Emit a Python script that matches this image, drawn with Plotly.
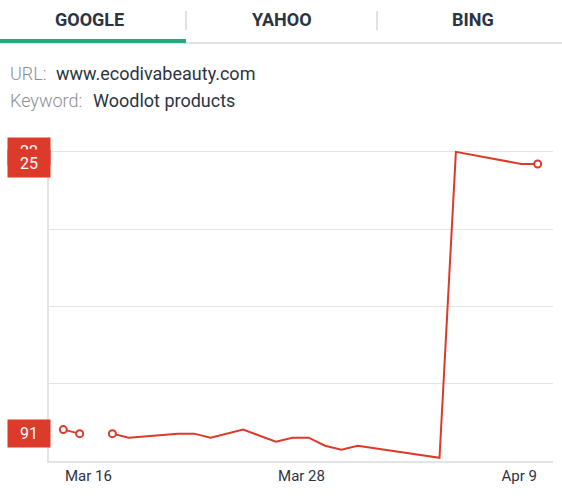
import plotly.graph_objects as go

# rank history (lower is better), None = no data that day
dates = ["2015-03-15", "2015-03-16", "2015-03-17", "2015-03-18", "2015-03-19",
         "2015-03-22", "2015-03-23", "2015-03-24", "2015-03-26", "2015-03-28",
         "2015-03-29", "2015-03-30", "2015-03-31", "2015-04-01", "2015-04-02",
         "2015-04-07", "2015-04-08", "2015-04-12", "2015-04-13"]
ranks = [91, 92, None, 92, 93,
         92, 92, 93, 91, 94,
         93, 93, 95, 96, 95,
         98, 22, 25, 25]

tick_vals = ["2015-03-16 12:45", "2015-03-29 13:30", "2015-04-11 20:50"]
tick_text = ["Mar 16", "Mar 28", "Apr 9"]
grid_vals = [22, 41.2, 60.4, 79.6, 98.8]
badge_vals = [22, 25, 91]

tabs = ["GOOGLE", "YAHOO", "BING"]
url = "www.ecodivabeauty.com"
keyword = "Woodlot products"

RED = "#dc3a2b"
DARK = "#2c3441"
GREY = "#8a8f96"
FONT = "Roboto"

W, H = 562, 500
L, R, T, B = 49, 9, 137, 39


def px_x(p):
    return (p - L) / (W - L - R)


def px_y(p):
    return (H - B - p) / (H - T - B)


fig = go.Figure()
fig.add_trace(go.Scatter(x=dates, y=ranks, mode="lines",
                         line=dict(color=RED, width=2), hoverinfo="skip"))

# round markers at the ends of each line segment
ends_x, ends_y = [], []
for i, v in enumerate(ranks):
    if v is None:
        continue
    prev_gap = i == 0 or ranks[i - 1] is None
    next_gap = i == len(ranks) - 1 or ranks[i + 1] is None
    if prev_gap or next_gap:
        ends_x.append(dates[i])
        ends_y.append(v)
fig.add_trace(go.Scatter(x=ends_x, y=ends_y, mode="markers",
                         marker=dict(symbol="circle", size=7, color="white",
                                     line=dict(color=RED, width=2)),
                         hoverinfo="skip"))

ann = []
tab_centers = [89, 282, 473]
for t, cx in zip(tabs, tab_centers):
    ann.append(dict(xref="paper", yref="paper", x=px_x(cx), y=px_y(20),
                    xanchor="center", yanchor="middle",
                    text="<b>" + t + "</b>", showarrow=False,
                    font=dict(family=FONT, size=18, color=DARK)))


def label(x, y, text, color, weight=400):
    return dict(xref="paper", yref="paper", x=px_x(x), y=px_y(y),
                xanchor="left", yanchor="middle", text=text, showarrow=False,
                font=dict(family=FONT, size=18, color=color, weight=weight))


ann.append(label(8, 73, "URL:", GREY, 300))
ann.append(label(54, 73, url, DARK))
ann.append(label(8, 101, "Keyword:", GREY, 300))
ann.append(label(91, 101, keyword, DARK))

for v in badge_vals:
    ann.append(dict(xref="paper", yref="y", x=px_x(29), y=v, text=str(v),
                    xanchor="center", yanchor="middle",
                    showarrow=False, bgcolor=RED, width=40, height=25,
                    yshift=-4 if v == 91 else 0,
                    font=dict(family=FONT, size=16, color="white")))

shapes = [
    dict(type="line", xref="paper", yref="paper", x0=px_x(0), x1=px_x(W),
         y0=px_y(43), y1=px_y(43), line=dict(color="#e2e2e2", width=2)),
    dict(type="line", xref="paper", yref="paper", x0=px_x(0), x1=px_x(186),
         y0=px_y(41), y1=px_y(41), line=dict(color="#27a87b", width=4)),
    dict(type="line", xref="paper", yref="paper", x0=px_x(186), x1=px_x(186),
         y0=px_y(11), y1=px_y(30), line=dict(color="#e2e2e2", width=2)),
    dict(type="line", xref="paper", yref="paper", x0=px_x(377), x1=px_x(377),
         y0=px_y(11), y1=px_y(30), line=dict(color="#e2e2e2", width=2)),
]

fig.update_layout(
    width=W, height=H,
    margin=dict(l=L, r=R, t=T, b=B),
    paper_bgcolor="white", plot_bgcolor="white",
    showlegend=False,
    annotations=ann, shapes=shapes,
    font=dict(family=FONT),
)
fig.update_xaxes(type="date", range=["2015-03-14 03:00", "2015-04-13 22:30"],
                 tickvals=tick_vals, ticktext=tick_text, showgrid=False,
                 showline=True, linecolor="#e4e4e4", linewidth=2, ticks="",
                 zeroline=False, tickfont=dict(family=FONT, size=15, color=DARK))
fig.update_yaxes(range=[98.8, 18.3], tickvals=grid_vals, showticklabels=False,
                 showgrid=True, gridcolor="#e4e4e4", gridwidth=1, zeroline=False,
                 showline=True, linecolor="#e4e4e4", linewidth=2)

fig.write_html("out.html", config={"displayModeBar": False},
               post_script="document.body.style.margin='0';")
